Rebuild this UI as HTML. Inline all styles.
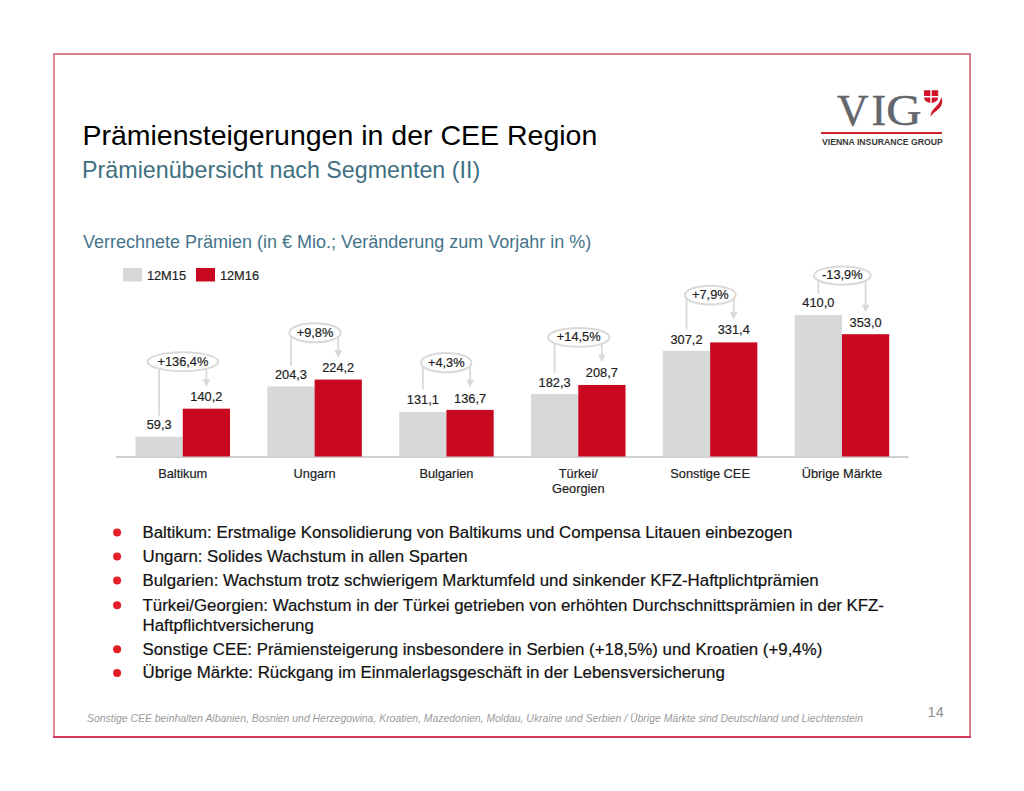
<!DOCTYPE html>
<html><head><meta charset="utf-8"><style>
html,body{margin:0;padding:0;background:#fff;width:1024px;height:791px;overflow:hidden}
svg{display:block}
svg{font-family:"Liberation Sans",sans-serif}
.v{font-size:12.8px;fill:#1e1e1e;stroke:#1e1e1e;stroke-width:0.2px}
.b{font-size:16.85px;fill:#111;stroke:#111;stroke-width:0.2px}
</style></head><body>
<svg width="1024" height="791" viewBox="0 0 1024 791">
<rect x="0" y="0" width="1024" height="791" fill="#fff"/>
<!-- frame -->
<rect x="53" y="53" width="918" height="2" fill="#dc7d8c"/>
<rect x="53" y="53" width="2" height="685" fill="#e08494"/>
<rect x="969" y="53" width="2" height="685" fill="#de8090"/>
<rect x="53" y="736" width="918" height="2" fill="#d63a5a"/>
<!-- logo -->
<g style="font-family:'Liberation Serif',serif" font-size="44" fill="#63676c" stroke="#63676c" stroke-width="0.5">
<text transform="translate(837 125.1) scale(0.99 1)">V</text>
<text transform="translate(871.6 125.1) scale(1 1)">I</text>
<text transform="translate(886.3 125.2) scale(1.11 1)">G</text>
</g>
<rect x="821" y="132" width="121" height="2" fill="#d0202a"/>
<text x="822" y="144.6" font-size="9.4" font-weight="bold" fill="#383838" transform="translate(822 0) scale(0.925 1) translate(-822 0)">VIENNA INSURANCE GROUP</text>
<g fill="#d0142a">
<path d="M924,90.3 h6.3 v5.6 h-6.3 z M931.7,90.3 h6.5 v5.6 h-6.5 z M924,97.4 h6.3 v5.5 c-3,-0.5 -6.3,-2.5 -6.3,-5.5 z M931.7,97.4 h6.5 c0,3 -3,5 -6.5,5.5 z"/>
<path d="M941.3,97 C943.2,102 942,106.3 938,109.6 C935.2,111.8 932.5,113.8 930.5,116.8 C930.5,113 932.2,110.2 934.8,107.8 C937.8,105 940.4,101.8 941.3,97 Z"/>
</g>
<!-- titles -->
<text x="82.4" y="144.8" font-size="28.5" fill="#000">Prämiensteigerungen in der CEE Region</text>
<text x="82.1" y="177.7" font-size="23.25" fill="#40707f">Prämienübersicht nach Segmenten (II)</text>
<text x="83" y="247.7" font-size="18" fill="#44738a">Verrechnete Prämien (in € Mio.; Veränderung zum Vorjahr in %)</text>
<!-- legend -->
<rect x="123" y="268" width="19" height="13.5" fill="#d7d8da"/>
<text x="146.9" y="280" class="v">12M15</text>
<rect x="196" y="268" width="19" height="13.5" fill="#c8081f"/>
<text x="219.9" y="280" class="v">12M16</text>
<!-- axis -->
<rect x="116" y="456" width="792.5" height="2" fill="#cfcfcf"/>
<rect x="135.50" y="436.74" width="47.25" height="19.76" fill="#d7d8da"/>
<rect x="182.75" y="408.69" width="47.25" height="47.81" fill="#c8081f"/>
<text x="159.12" y="429.42" class="v" text-anchor="middle">59,3</text>
<text x="206.38" y="401.45" class="v" text-anchor="middle">140,2</text>
<text x="182.75" y="477.90" class="v" text-anchor="middle">Baltikum</text>
<line x1="159.12" y1="361.75" x2="159.12" y2="415.60" stroke="#d9d9d9" stroke-width="1.8"/>
<line x1="206.38" y1="361.75" x2="206.38" y2="381.80" stroke="#d9d9d9" stroke-width="1.8"/>
<path d="M202.57,379.30 L210.18,379.30 L206.38,386.80 Z" fill="#d9d9d9"/>
<ellipse cx="182.9" cy="361.75" rx="35.4" ry="9.40" fill="#fff" stroke="#d9d9d9" stroke-width="2"/>
<text x="182.9" y="365.65" class="v" text-anchor="middle">+136,4%</text>
<rect x="267.34" y="386.47" width="47.25" height="70.03" fill="#d7d8da"/>
<rect x="314.59" y="379.57" width="47.25" height="76.93" fill="#c8081f"/>
<text x="290.97" y="379.23" class="v" text-anchor="middle">204,3</text>
<text x="338.22" y="372.48" class="v" text-anchor="middle">224,2</text>
<text x="314.59" y="477.90" class="v" text-anchor="middle">Ungarn</text>
<line x1="290.97" y1="332.75" x2="290.97" y2="365.70" stroke="#d9d9d9" stroke-width="1.8"/>
<line x1="338.22" y1="332.75" x2="338.22" y2="352.80" stroke="#d9d9d9" stroke-width="1.8"/>
<path d="M334.42,350.30 L342.02,350.30 L338.22,357.80 Z" fill="#d9d9d9"/>
<ellipse cx="315.0" cy="332.75" rx="25.75" ry="9.60" fill="#fff" stroke="#d9d9d9" stroke-width="2"/>
<text x="315.0" y="336.65" class="v" text-anchor="middle">+9,8%</text>
<rect x="399.18" y="411.85" width="47.25" height="44.65" fill="#d7d8da"/>
<rect x="446.43" y="409.91" width="47.25" height="46.59" fill="#c8081f"/>
<text x="422.81" y="404.07" class="v" text-anchor="middle">131,1</text>
<text x="470.06" y="402.65" class="v" text-anchor="middle">136,7</text>
<text x="446.43" y="477.90" class="v" text-anchor="middle">Bulgarien</text>
<line x1="422.81" y1="362.65" x2="422.81" y2="389.50" stroke="#d9d9d9" stroke-width="1.8"/>
<line x1="470.06" y1="362.65" x2="470.06" y2="382.20" stroke="#d9d9d9" stroke-width="1.8"/>
<path d="M466.25,379.70 L473.86,379.70 L470.06,387.20 Z" fill="#d9d9d9"/>
<ellipse cx="446.3" cy="362.65" rx="25.2" ry="9.70" fill="#fff" stroke="#d9d9d9" stroke-width="2"/>
<text x="446.3" y="366.55" class="v" text-anchor="middle">+4,3%</text>
<rect x="531.02" y="394.10" width="47.25" height="62.40" fill="#d7d8da"/>
<rect x="578.27" y="384.94" width="47.25" height="71.56" fill="#c8081f"/>
<text x="554.64" y="387.15" class="v" text-anchor="middle">182,3</text>
<text x="601.89" y="377.27" class="v" text-anchor="middle">208,7</text>
<text x="578.27" y="477.90" class="v" text-anchor="middle">Türkei/</text>
<text x="578.27" y="493.10" class="v" text-anchor="middle">Georgien</text>
<line x1="554.64" y1="337.45" x2="554.64" y2="373.00" stroke="#d9d9d9" stroke-width="1.8"/>
<line x1="601.89" y1="337.45" x2="601.89" y2="357.20" stroke="#d9d9d9" stroke-width="1.8"/>
<path d="M598.10,354.70 L605.69,354.70 L601.89,362.20 Z" fill="#d9d9d9"/>
<ellipse cx="578.75" cy="337.45" rx="30.65" ry="9.40" fill="#fff" stroke="#d9d9d9" stroke-width="2"/>
<text x="578.75" y="341.35" class="v" text-anchor="middle">+14,5%</text>
<rect x="662.86" y="350.79" width="47.25" height="105.71" fill="#d7d8da"/>
<rect x="710.11" y="342.40" width="47.25" height="114.10" fill="#c8081f"/>
<text x="686.49" y="343.60" class="v" text-anchor="middle">307,2</text>
<text x="733.74" y="334.45" class="v" text-anchor="middle">331,4</text>
<text x="710.11" y="477.90" class="v" text-anchor="middle">Sonstige CEE</text>
<line x1="686.49" y1="295.05" x2="686.49" y2="329.60" stroke="#d9d9d9" stroke-width="1.8"/>
<line x1="733.74" y1="295.05" x2="733.74" y2="314.40" stroke="#d9d9d9" stroke-width="1.8"/>
<path d="M729.94,311.90 L737.53,311.90 L733.74,319.40 Z" fill="#d9d9d9"/>
<ellipse cx="710.35" cy="295.05" rx="25.35" ry="9.40" fill="#fff" stroke="#d9d9d9" stroke-width="2"/>
<text x="710.35" y="298.95" class="v" text-anchor="middle">+7,9%</text>
<rect x="794.70" y="315.15" width="47.25" height="141.35" fill="#d7d8da"/>
<rect x="841.95" y="334.20" width="47.25" height="122.30" fill="#c8081f"/>
<text x="818.33" y="307.33" class="v" text-anchor="middle">410,0</text>
<text x="865.58" y="326.50" class="v" text-anchor="middle">353,0</text>
<text x="841.95" y="477.90" class="v" text-anchor="middle">Übrige Märkte</text>
<line x1="818.33" y1="275.55" x2="818.33" y2="294.00" stroke="#d9d9d9" stroke-width="1.8"/>
<line x1="865.58" y1="275.55" x2="865.58" y2="307.20" stroke="#d9d9d9" stroke-width="1.8"/>
<path d="M861.78,304.70 L869.38,304.70 L865.58,312.20 Z" fill="#d9d9d9"/>
<ellipse cx="842.35" cy="275.55" rx="28.45" ry="9.10" fill="#fff" stroke="#d9d9d9" stroke-width="2"/>
<text x="842.35" y="279.45" class="v" text-anchor="middle">-13,9%</text>
<circle cx="117.1" cy="532.60" r="4" fill="#e41d26"/>
<text x="142.5" y="537.9" class="b">Baltikum: Erstmalige Konsolidierung von Baltikums und Compensa Litauen einbezogen</text>
<circle cx="117.1" cy="556.60" r="4" fill="#e41d26"/>
<text x="142.5" y="561.9" class="b">Ungarn: Solides Wachstum in allen Sparten</text>
<circle cx="117.1" cy="580.40" r="4" fill="#e41d26"/>
<text x="142.5" y="585.7" class="b">Bulgarien: Wachstum trotz schwierigem Marktumfeld und sinkender KFZ-Haftplichtprämien</text>
<circle cx="117.1" cy="605.20" r="4" fill="#e41d26"/>
<text x="142.5" y="610.5" class="b">Türkei/Georgien: Wachstum in der Türkei getrieben von erhöhten Durchschnittsprämien in der KFZ-</text>
<text x="142.5" y="631.0" class="b">Haftpflichtversicherung</text>
<circle cx="117.1" cy="649.20" r="4" fill="#e41d26"/>
<text x="142.5" y="654.5" class="b">Sonstige CEE: Prämiensteigerung insbesondere in Serbien (+18,5%) und Kroatien (+9,4%)</text>
<circle cx="117.1" cy="673.10" r="4" fill="#e41d26"/>
<text x="142.5" y="678.4" class="b">Übrige Märkte: Rückgang im Einmalerlagsgeschäft in der Lebensversicherung</text>
<text x="87" y="721.6" font-size="10.43" font-style="italic" fill="#9b9b9b">Sonstige CEE beinhalten Albanien, Bosnien und Herzegowina, Kroatien, Mazedonien, Moldau, Ukraine und Serbien / Übrige Märkte sind Deutschland und Liechtenstein</text>
<text x="927.6" y="716.8" font-size="14.5" fill="#8f8f8f">14</text>
</svg>
</body></html>
